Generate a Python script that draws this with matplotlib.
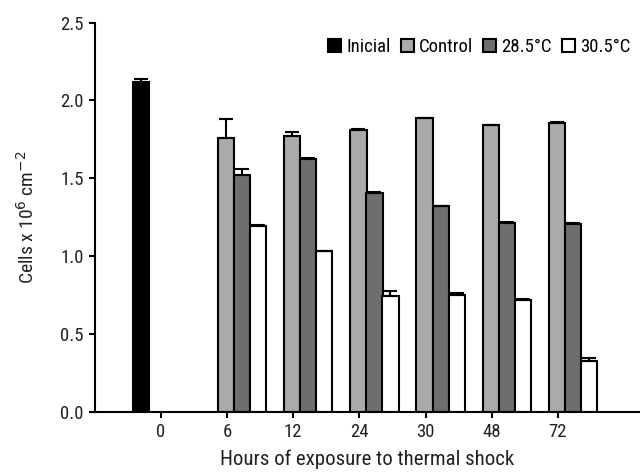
import numpy as np
import matplotlib
matplotlib.use('Agg')
import matplotlib.pyplot as plt
from matplotlib import font_manager

names = {f.name for f in font_manager.fontManager.ttflist}
fams = [f for f in ['Liberation Sans Narrow', 'DejaVu Sans Condensed', 'Roboto Condensed',
                    'Open Sans Condensed', 'Liberation Sans'] if f in names]
plt.rcParams['font.family'] = fams + ['DejaVu Sans']

hours = ['0', '6', '12', '24', '30', '48', '72']

# Cells x 10^6 cm^-2
inicial = [2.12]
inicial_err = [0.015]
control = [1.76, 1.77, 1.81, 1.885, 1.84, 1.855]
control_err = [0.12, 0.03, 0.004, 0.004, 0.004, 0.004]
t285 = [1.52, 1.625, 1.405, 1.32, 1.215, 1.205]
t285_err = [0.04, 0.004, 0.004, 0.004, 0.004, 0.004]
t305 = [1.195, 1.03, 0.74, 0.748, 0.72, 0.328]
t305_err = [0.004, 0.004, 0.038, 0.013, 0.004, 0.015]

fig = plt.figure(figsize=(6.4, 4.72), dpi=100)
ax = fig.add_axes([0.148, 0.128, 0.852, 0.824])

x = np.arange(len(hours))
xs = x[1:]
w = 0.245
edge = dict(edgecolor='black', linewidth=1.5)
err_kw = dict(ecolor='black', elinewidth=1.5, capsize=5, capthick=1.5)

def upper(e):
    return [np.zeros(len(e)), e]

ax.bar(x[:1] - 0.30, inicial, w, color='black', yerr=upper(inicial_err),
       error_kw=err_kw, label='Inicial', **edge)
ax.bar(xs - 0.015, control, w, color='#aaaaaa', yerr=upper(control_err),
       error_kw=err_kw, label='Control', **edge)
ax.bar(xs + 0.227, t285, w, color='#6e6e6e', yerr=upper(t285_err),
       error_kw=err_kw, label='28.5°C', **edge)
ax.bar(xs + 0.469, t305, w, color='white', yerr=upper(t305_err),
       error_kw=err_kw, label='30.5°C', **edge)

ax.set_xlim(-1.0, 7.24)
ax.set_ylim(0, 2.5)
ax.set_xticks(x)
ax.set_xticklabels(hours)
ax.set_yticks([0.0, 0.5, 1.0, 1.5, 2.0, 2.5])
ax.set_yticklabels(['0.0', '0.5', '1.0', '1.5', '2.0', '2.5'])

for s in ['top', 'right']:
    ax.spines[s].set_visible(False)
for s in ['left', 'bottom']:
    ax.spines[s].set_linewidth(1.5)
ax.tick_params(width=1.5, length=4, labelsize=13.5, pad=4, labelcolor='#222222')

ax.set_xlabel('Hours of exposure to thermal shock', fontsize=15, labelpad=6, color='#222222')
ax.set_ylabel('Cells x 10$^6$ cm$^{-2}$', fontsize=14, labelpad=16, color='#222222')

ax.legend(loc='upper right', bbox_to_anchor=(1.0, 0.985), ncol=4, frameon=False,
          fontsize=13.5, handlelength=0.7, handleheight=0.7, handletextpad=0.3,
          columnspacing=0.5, borderaxespad=0.1)

fig.savefig('out.png', dpi=100)
